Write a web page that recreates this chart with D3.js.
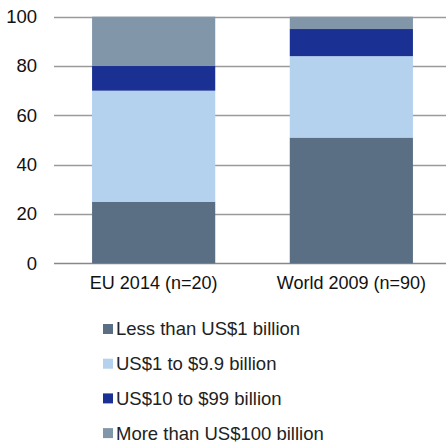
<!DOCTYPE html>
<html><head><meta charset="utf-8">
<script src="https://cdn.jsdelivr.net/npm/d3@7"></script>
<style>body{margin:0;background:#fff}svg{display:block;font-family:"Liberation Sans",Arial,sans-serif}</style>
</head><body><svg id="c" width="446" height="443"></svg>
<script>
const categories = ["EU 2014 (n=20)", "World 2009 (n=90)"];
const seriesNames = ["Less than US$1 billion", "US$1 to $9.9 billion", "US$10 to $99 billion", "More than US$100 billion"];
const lessThan1 = [25, 51];
const from1to9 = [45, 33];
const from10to99 = [10, 11];
const moreThan100 = [20, 5];
const colors = ["#5b6f84", "#b4d1ee", "#1a3092", "#8296a9"];
const yTicks = [0, 20, 40, 60, 80, 100];

const series = [lessThan1, from1to9, from10to99, moreThan100];
const rows = categories.map((c, i) => {
  const r = {cat: c};
  seriesNames.forEach((s, j) => r[s] = series[j][i]);
  return r;
});
const stacked = d3.stack().keys(seriesNames)(rows);

const svg = d3.select("#c");
const x = d3.scaleBand().domain(categories).range([55, 450]).paddingInner(0.377).paddingOuter(0.1875);
const y = d3.scaleLinear().domain([0, 100]).range([263.3, 16.7]);

// gridlines
svg.append("g").selectAll("line").data(yTicks).join("line")
  .attr("x1", 54).attr("x2", 446)
  .attr("y1", d => Math.round(y(d)) + 0.5).attr("y2", d => Math.round(y(d)) + 0.5)
  .attr("stroke", d => d === 0 ? "#888" : "#9a9a9a").attr("stroke-width", 1.3);

// bars
svg.append("g").selectAll("g").data(stacked).join("g")
  .attr("fill", (d, i) => colors[i])
  .selectAll("rect").data(d => d).join("rect")
  .attr("x", d => x(d.data.cat))
  .attr("width", x.bandwidth())
  .attr("y", d => y(d[1]))
  .attr("height", d => y(d[0]) - y(d[1]));

// y axis labels
const yAxis = d3.axisLeft(y).tickValues(yTicks).tickSize(0).tickPadding(17);
const gy = svg.append("g").attr("transform", "translate(54,0)").call(yAxis);
gy.select(".domain").remove();
gy.selectAll("text").attr("font-size", 18.5).attr("fill", "#111").attr("font-family", "Liberation Sans, Arial, sans-serif");

// x axis labels
const xAxis = d3.axisBottom(x).tickSize(0).tickPadding(13);
const gx = svg.append("g").attr("transform", "translate(0,263)").call(xAxis);
gx.select(".domain").remove();
gx.selectAll("text").attr("font-size", 18).attr("fill", "#111").attr("font-family", "Liberation Sans, Arial, sans-serif");

// legend
const lg = svg.append("g").selectAll("g").data(seriesNames).join("g")
  .attr("transform", (d, i) => `translate(103,${329 + i * 34.7})`);
lg.append("rect").attr("x", 0).attr("y", -5).attr("width", 10).attr("height", 10).attr("fill", (d, i) => colors[i]);
lg.append("text").attr("x", 13).attr("dy", "0.35em").attr("font-size", 18.5).attr("fill", "#222").text(d => d);
</script></body></html>
